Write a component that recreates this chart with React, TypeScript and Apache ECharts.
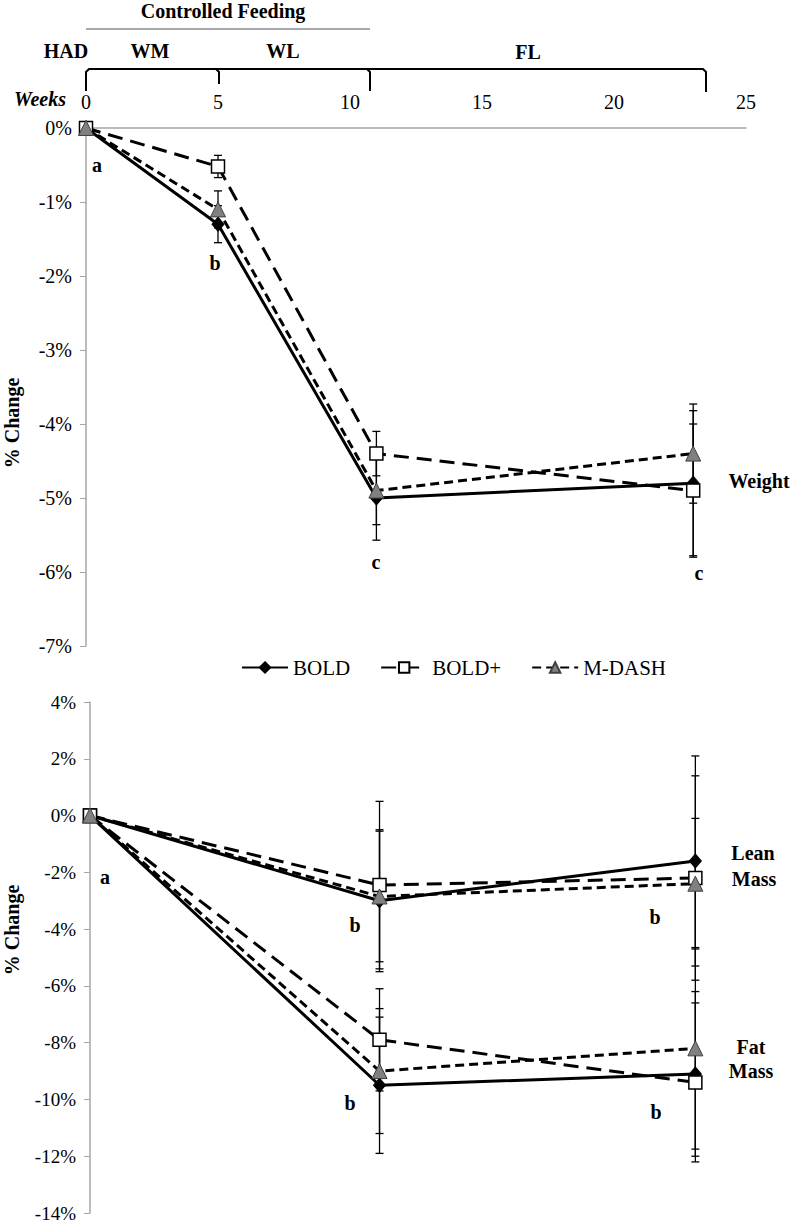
import React, { useEffect, useRef } from "react";
import * as echarts from "echarts";

// ---------- data ----------
const weeksTop = [0, 5, 11, 23];
const weightBOLD = [0, -1.3, -5.0, -4.8];
const weightBOLDErr = [0, 0.25, 0.57, 0.98];
const weightBOLDPlus = [0, -0.52, -4.4, -4.9];
const weightBOLDPlusErr = [0, 0.15, 0.3, 0.9];
const weightMDASH = [0, -1.1, -4.9, -4.4];
const weightMDASHErr = [0, 0.25, 0.46, 0.67];

const weeksBottom = [0, 11, 23];
const leanBOLD = [0, -3.0, -1.6];
const leanBOLDErr = [0, 2.5, 3.7];
const leanBOLDPlus = [0, -2.45, -2.2];
const leanBOLDPlusErr = [0, 2.95, 3.6];
const leanMDASH = [0, -2.85, -2.4];
const leanMDASHErr = [0, 2.3, 2.3];
const fatBOLD = [0, -9.5, -9.1];
const fatBOLDErr = [0, 2.4, 2.9];
const fatBOLDPlus = [0, -7.9, -9.4];
const fatBOLDPlusErr = [0, 1.8, 2.8];
const fatMDASH = [0, -9.0, -8.2];
const fatMDASHErr = [0, 2.2, 3.55];

const weekTicks = [0, 5, 10, 15, 20, 25];
const seriesNames = ["BOLD", "BOLD+", "M-DASH"];

// ---------- styles ----------
const SERIF = "Liberation Serif";
const styles: any = {
  "BOLD": {
    lineStyle: { color: "#000", width: 3, type: "solid" },
    symbol: "diamond",
    symbolSize: [12, 14],
    itemStyle: { color: "#000", borderColor: "#000", borderWidth: 1 },
  },
  "BOLD+": {
    lineStyle: { color: "#000", width: 3, type: [15, 8] },
    symbol: "rect",
    symbolSize: 13,
    itemStyle: { color: "#fff", borderColor: "#000", borderWidth: 1.5 },
  },
  "M-DASH": {
    lineStyle: { color: "#000", width: 3, type: [9, 5] },
    symbol: "triangle",
    symbolSize: 15,
    itemStyle: { color: "#808080", borderColor: "#404040", borderWidth: 1 },
  },
};

function pairs(xs: number[], ys: number[]) {
  return xs.map((x, i) => [x, ys[i]]);
}
function errs(xs: number[], ys: number[], es: number[]) {
  return xs
    .map((x, i) => [x, ys[i] - es[i], ys[i] + es[i]])
    .filter((d, i) => es[i] > 0);
}

function lineSeries(name: string, xs: number[], ys: number[], idx: number) {
  const s = styles[name];
  return {
    type: "line",
    name,
    xAxisIndex: idx,
    yAxisIndex: idx,
    data: pairs(xs, ys),
    symbol: s.symbol,
    symbolSize: s.symbolSize,
    showSymbol: true,
    lineStyle: s.lineStyle,
    itemStyle: s.itemStyle,
    z: 3,
  };
}

function errorSeries(xs: number[], ys: number[], es: number[], idx: number) {
  return {
    type: "custom",
    xAxisIndex: idx,
    yAxisIndex: idx,
    data: errs(xs, ys, es),
    encode: { x: 0, y: [1, 2] },
    z: 1,
    silent: true,
    renderItem: (params: any, api: any) => {
      const x = api.value(0);
      const lo = api.value(1);
      const hi = api.value(2);
      const p1 = api.coord([x, hi]);
      const p2 = api.coord([x, lo]);
      const w = 4;
      const st = { stroke: "#000", lineWidth: 1.3 };
      return {
        type: "group",
        children: [
          { type: "line", shape: { x1: p1[0], y1: p1[1], x2: p2[0], y2: p2[1] }, style: st },
          { type: "line", shape: { x1: p1[0] - w, y1: p1[1], x2: p1[0] + w, y2: p1[1] }, style: st },
          { type: "line", shape: { x1: p2[0] - w, y1: p2[1], x2: p2[0] + w, y2: p2[1] }, style: st },
        ],
      };
    },
  };
}

function txt(text: string, x: number, y: number, opts: any = {}) {
  return {
    type: "text",
    x,
    y,
    rotation: opts.rotation || 0,
    z: 10,
    style: {
      text,
      x: 0,
      y: 0,
      fill: opts.fill || "#000",
      font: opts.font || `bold 20px "${SERIF}"`,
      align: opts.align || "center",
      verticalAlign: "middle",
      textAlign: opts.align || "center",
      textVerticalAlign: "middle",
    },
  };
}

export default function App() {
  const ref = useRef<HTMLDivElement>(null);
  useEffect(() => {
    document.body.style.margin = "0";
    if (!ref.current) return;
    const chart = echarts.init(ref.current, null, { renderer: "svg" });
    const axisGray = "#a6a6a6";
    const option: any = {
      animation: false,
      backgroundColor: "#fff",
      grid: [
        { left: 86, top: 128, width: 660, height: 518, outerBoundsMode: "none" },
        { left: 90, top: 702, width: 658, height: 511, outerBoundsMode: "none" },
      ],
      xAxis: [
        {
          type: "value",
          gridIndex: 0,
          position: "top",
          min: 0,
          max: 25,
          interval: 5,
          axisLine: { show: true, onZero: false, lineStyle: { color: axisGray, width: 1.5 } },
          axisTick: { show: false },
          splitLine: { show: false },
          axisLabel: {
            margin: 16,
            color: "#000",
            fontFamily: SERIF,
            fontSize: 20,
            customValues: weekTicks,
          },
        },
        {
          type: "value",
          gridIndex: 1,
          min: 0,
          max: 25,
          show: false,
          splitLine: { show: false },
        },
      ],
      yAxis: [
        {
          type: "value",
          gridIndex: 0,
          min: -7,
          max: 0,
          interval: 1,
          axisLine: { show: true, onZero: false, lineStyle: { color: axisGray, width: 1.5 } },
          axisTick: { show: true, inside: false, length: 6, lineStyle: { color: axisGray } },
          splitLine: { show: false },
          axisLabel: {
            margin: 14,
            color: "#000",
            fontFamily: SERIF,
            fontSize: 20,
            formatter: (v: number) => `${v}%`,
          },
        },
        {
          type: "value",
          gridIndex: 1,
          min: -14,
          max: 4,
          interval: 2,
          axisLine: { show: true, onZero: false, lineStyle: { color: axisGray, width: 1.5 } },
          axisTick: { show: true, inside: false, length: 6, lineStyle: { color: axisGray } },
          splitLine: { show: false },
          axisLabel: {
            margin: 14,
            color: "#000",
            fontFamily: SERIF,
            fontSize: 19,
            formatter: (v: number) => `${v}%`,
          },
        },
      ],
      legend: {
        data: seriesNames,
        left: 236,
        top: 652,
        itemWidth: 46,
        itemHeight: 13,
        itemGap: 30,
        textStyle: { color: "#000", fontFamily: SERIF, fontSize: 21 },
      },
      series: [
        errorSeries(weeksTop, weightBOLD, weightBOLDErr, 0),
        errorSeries(weeksTop, weightBOLDPlus, weightBOLDPlusErr, 0),
        errorSeries(weeksTop, weightMDASH, weightMDASHErr, 0),
        errorSeries(weeksBottom, leanBOLD, leanBOLDErr, 1),
        errorSeries(weeksBottom, leanBOLDPlus, leanBOLDPlusErr, 1),
        errorSeries(weeksBottom, leanMDASH, leanMDASHErr, 1),
        errorSeries(weeksBottom, fatBOLD, fatBOLDErr, 1),
        errorSeries(weeksBottom, fatBOLDPlus, fatBOLDPlusErr, 1),
        errorSeries(weeksBottom, fatMDASH, fatMDASHErr, 1),
        lineSeries("BOLD", weeksTop, weightBOLD, 0),
        lineSeries("BOLD+", weeksTop, weightBOLDPlus, 0),
        lineSeries("M-DASH", weeksTop, weightMDASH, 0),
        lineSeries("BOLD", weeksBottom, leanBOLD, 1),
        lineSeries("BOLD+", weeksBottom, leanBOLDPlus, 1),
        lineSeries("M-DASH", weeksBottom, leanMDASH, 1),
        lineSeries("BOLD", weeksBottom, fatBOLD, 1),
        lineSeries("BOLD+", weeksBottom, fatBOLDPlus, 1),
        lineSeries("M-DASH", weeksBottom, fatMDASH, 1),
      ],
      graphic: [
        // header
        txt("Controlled Feeding", 223, 11),
        {
          type: "line",
          shape: { x1: 86, y1: 29, x2: 370, y2: 29 },
          style: { stroke: "#8c8c8c", lineWidth: 1.5 },
        },
        txt("HAD", 66, 51),
        txt("WM", 150, 51),
        txt("WL", 283, 51),
        txt("FL", 528, 52),
        {
          type: "polyline",
          shape: { points: [[86, 91], [86, 72], [89, 69], [703, 69], [706, 72], [706, 92]] },
          style: { stroke: "#000", lineWidth: 2, fill: null },
        },
        {
          type: "polyline",
          shape: { points: [[216, 69], [219, 72], [219, 84]] },
          style: { stroke: "#000", lineWidth: 2, fill: null },
        },
        {
          type: "polyline",
          shape: { points: [[367, 69], [370, 72], [370, 91]] },
          style: { stroke: "#000", lineWidth: 2, fill: null },
        },
        txt("Weeks", 40, 99, { font: `italic bold 20px "${SERIF}"` }),
        // axis titles
        txt("% Change", 12, 423, { rotation: Math.PI / 2 }),
        txt("% Change", 12, 930, { rotation: Math.PI / 2 }),
        // top annotations
        txt("a", 97, 165),
        txt("b", 215, 263),
        txt("c", 376, 562),
        txt("c", 699, 573),
        txt("Weight", 759, 481),
        // bottom annotations
        txt("a", 105, 877),
        txt("b", 355, 925),
        txt("b", 655, 917),
        txt("b", 350, 1103),
        txt("b", 656, 1112),
        txt("Lean", 753, 853),
        txt("Mass", 754, 879),
        txt("Fat", 751, 1047),
        txt("Mass", 751, 1071),
      ],
    };
    chart.setOption(option);
    return () => chart.dispose();
  }, []);
  return <div ref={ref} style={{ width: 793, height: 1225 }} />;
}
